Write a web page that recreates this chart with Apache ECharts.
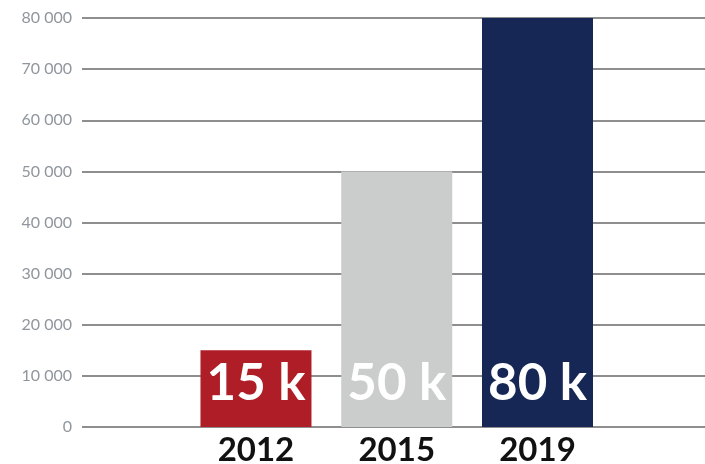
<!DOCTYPE html>
<html>
<head>
<meta charset="utf-8">
<script src="https://cdn.jsdelivr.net/npm/echarts@6/dist/echarts.min.js"></script>
<style>
  html, body { margin: 0; padding: 0; background: #fff; }
</style>
</head>
<body>
<div id="histGraph" style="width:705px;height:464px"></div>
<script>
// data
var years = ["2012", "2015", "2019"];
var values = [15000, 50000, 80000];
var barLabels = ["15 k", "50 k", "80 k"];
var barColors = ["#af1d27", "#cbcdcc", "#172755"];
var yTicks = [0, 10000, 20000, 30000, 40000, 50000, 60000, 70000, 80000];

var chart = echarts.init(document.getElementById("histGraph"));

var option = {
  animation: false,
  grid: { left: 82, right: 0, top: 18, bottom: 37, outerBoundsMode: "none" },
  xAxis: {
    type: "value",
    min: -1.236,
    max: 3.19,
    axisLine: { show: false },
    axisTick: { show: false },
    splitLine: { show: false },
    axisLabel: {
      customValues: years.map(function (y, i) { return i; }),
      formatter: function (v) { return years[Math.round(v)]; },
      color: "#111",
      fontFamily: "Lato",
      fontWeight: "bold",
      fontSize: 33,
      margin: 7
    }
  },
  yAxis: {
    type: "value",
    min: yTicks[0],
    max: yTicks[yTicks.length - 1],
    interval: 10000,
    axisLine: { show: false },
    axisTick: { show: false },
    splitLine: { lineStyle: { color: "#8e8e8e", width: 2 } },
    axisLabel: {
      color: "#8f969d",
      fontFamily: "Lato",
      fontSize: 16,
      margin: 10,
      formatter: function (v) {
        return String(v).replace(/\B(?=(\d{3})+(?!\d))/g, " ");
      }
    }
  },
  series: [
    {
      type: "bar",
      barWidth: 111,
      data: years.map(function (y, i) {
        return {
          value: [i, values[i]],
          itemStyle: { color: barColors[i] }
        };
      }),
      label: {
        show: true,
        position: "insideBottom",
        distance: 18,
        formatter: function (p) { return barLabels[p.dataIndex]; },
        color: "#fff",
        fontFamily: "Lato",
        fontWeight: "bold",
        fontSize: 51,
        lineHeight: 51
      }
    }
  ]
};
chart.setOption(option);
</script>
</body>
</html>
